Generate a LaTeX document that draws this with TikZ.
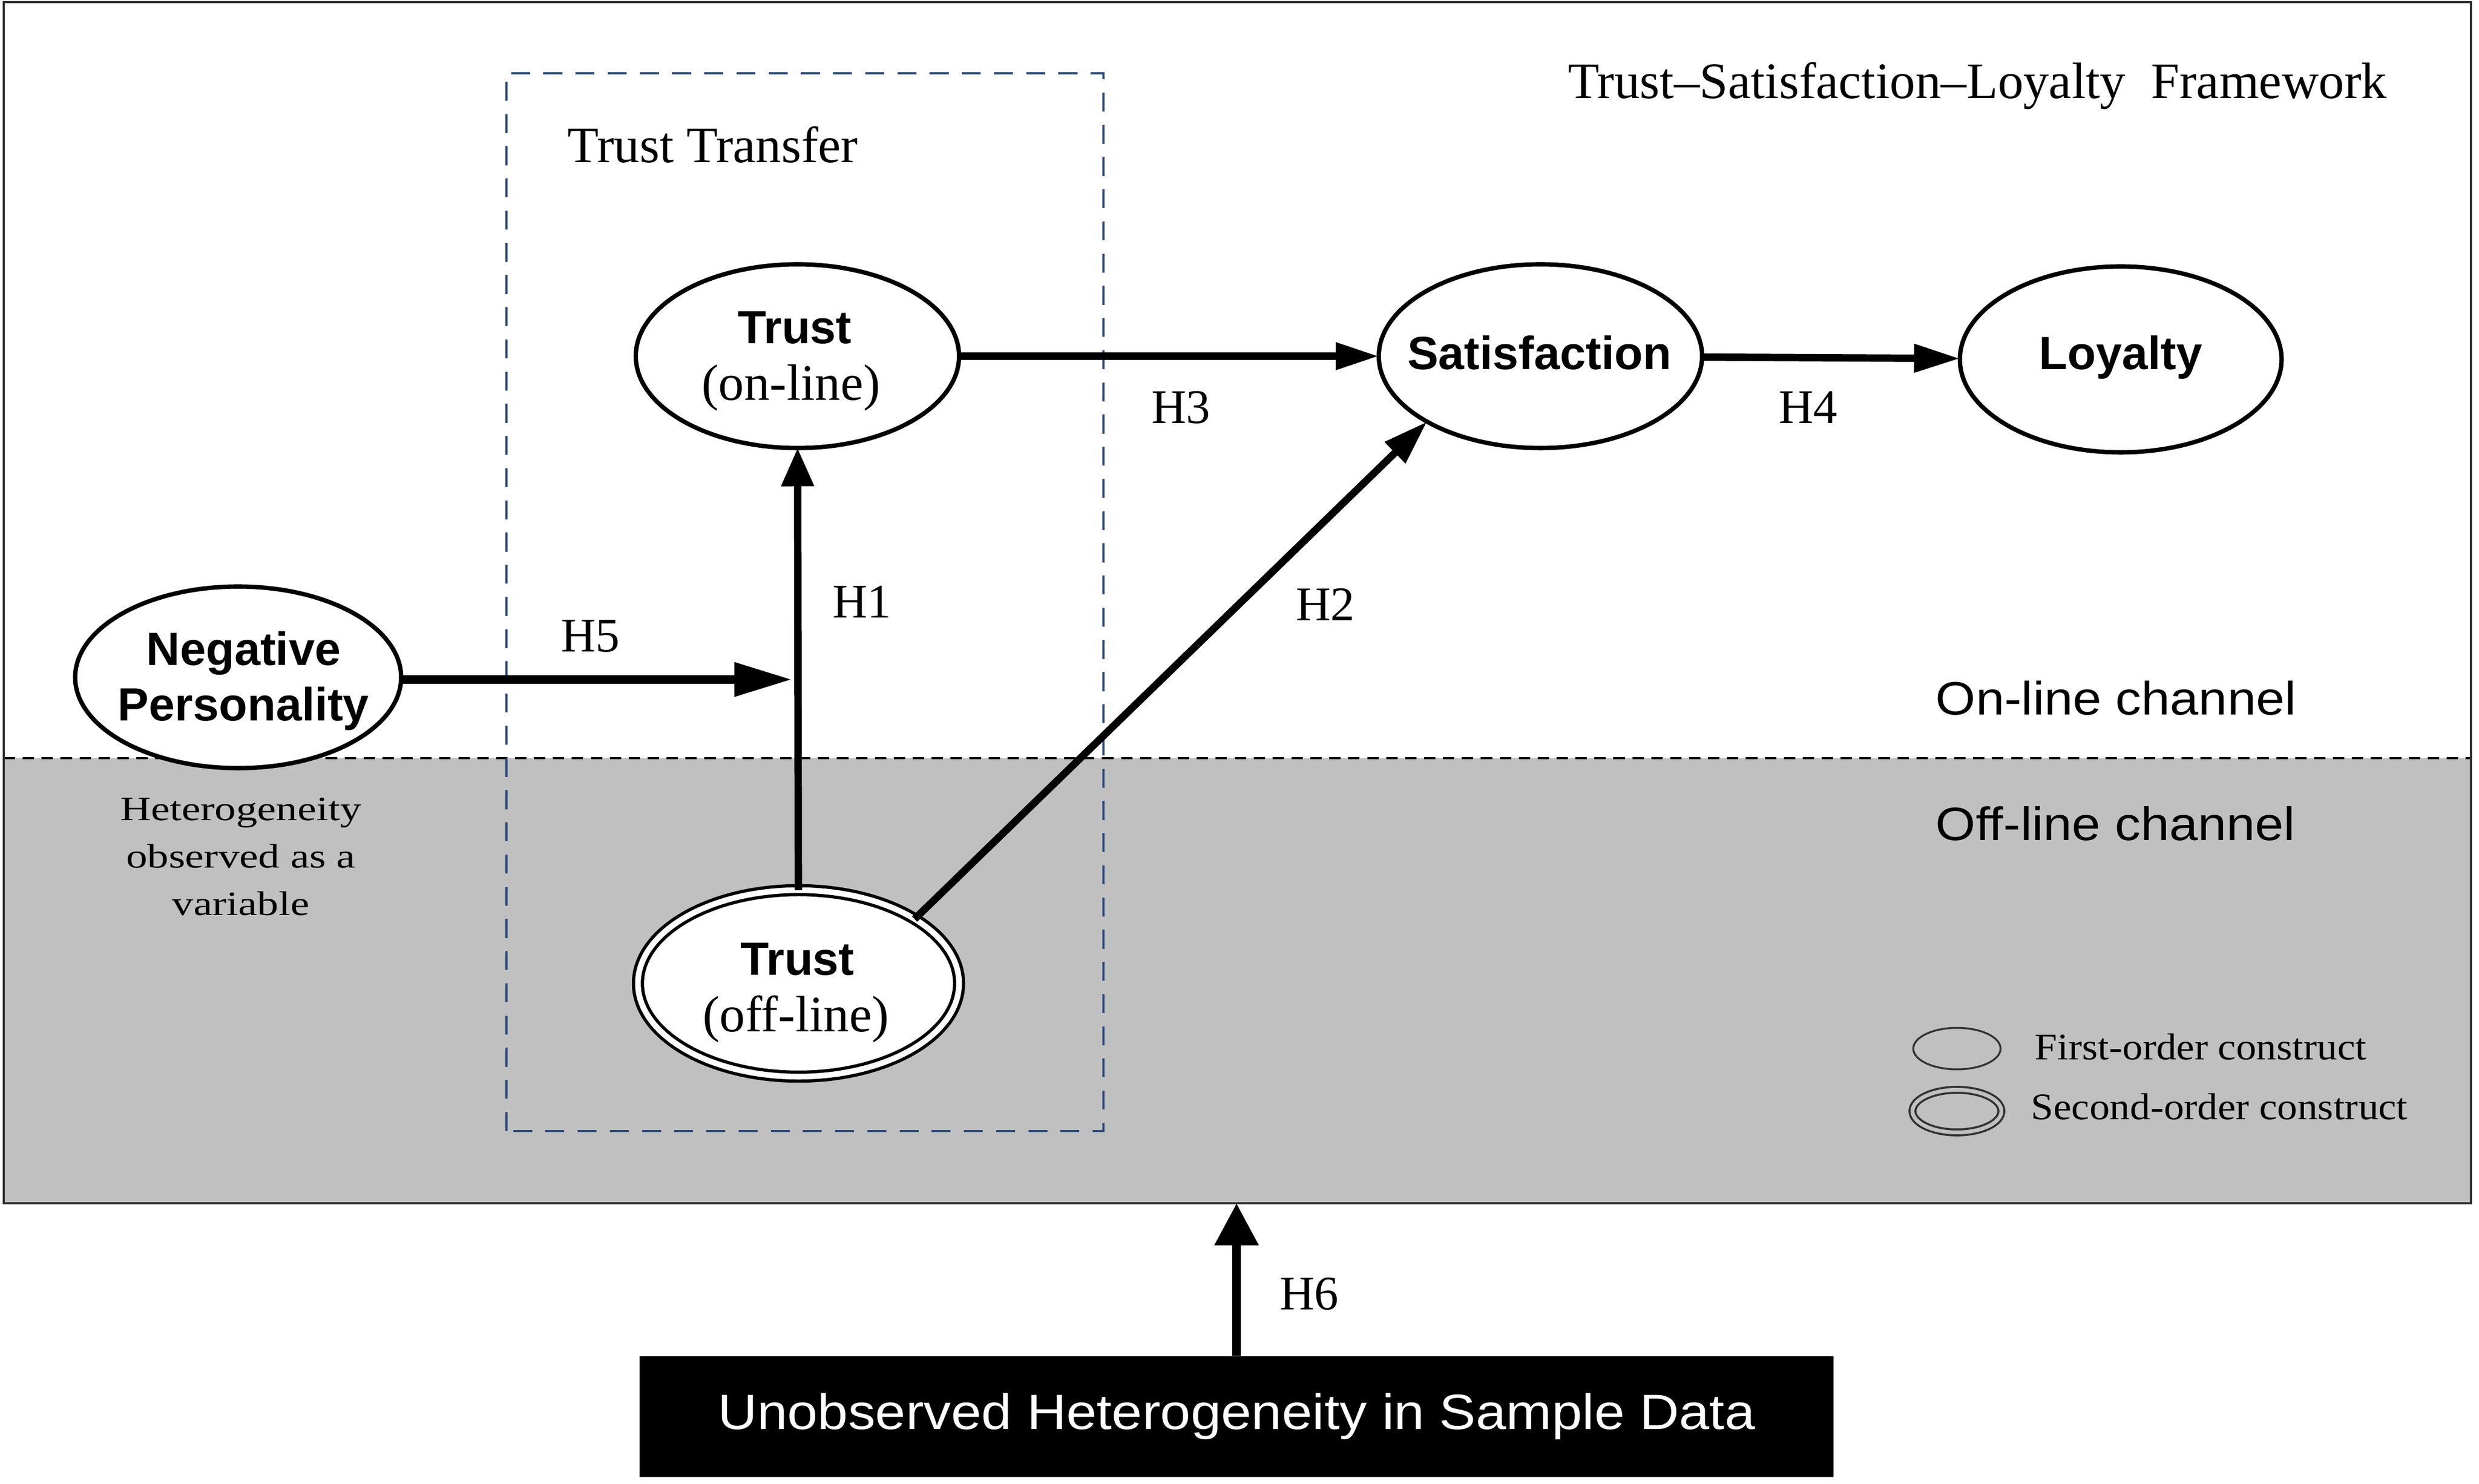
\documentclass[tikz,border=0pt]{standalone}
\usepackage{fontspec}
\setmainfont{Liberation Serif}
\setsansfont{Liberation Sans}
\newfontfamily\serifwide{Liberation Serif}[FakeStretch=1.25]
\newfontfamily\seriflegend{Liberation Serif}[FakeStretch=1.08]
\newfontfamily\sanswide{Liberation Sans}[FakeStretch=1.1]
\usetikzlibrary{shapes.geometric,arrows.meta,calc}
\definecolor{bggray}{RGB}{192,192,192}
\definecolor{navy}{RGB}{40,70,125}
\definecolor{framegray}{RGB}{50,50,50}
\begin{document}
\begin{tikzpicture}[
  construct/.style={draw, line width=2.3pt, ellipse, fill=white, inner sep=0pt, outer sep=0pt, minimum width=6cm, minimum height=3.41cm},
  secondorder/.style={draw, line width=1.7pt, double=white, double distance=3pt, ellipse, fill=white, inner sep=0pt, outer sep=0pt},
  arr/.style={line width=3.9pt},
  bsans/.style={font=\sffamily\bfseries\fontsize{24.6}{28}\selectfont, anchor=base, inner sep=0pt},
  serifin/.style={font=\fontsize{27}{30}\selectfont, anchor=base, inner sep=0pt},
  hlab/.style={font=\fontsize{25.5}{29}\selectfont, anchor=base, inner sep=0pt},
  title/.style={font=\fontsize{27}{30}\selectfont, inner sep=0pt},
  channel/.style={font=\sanswide\fontsize{24.7}{28}\selectfont, anchor=base west, inner sep=0pt},
  note/.style={font=\serifwide\fontsize{18}{24}\selectfont, anchor=base, inner sep=0pt},
  legtext/.style={font=\seriflegend\fontsize{19.8}{23}\selectfont, anchor=base west, inner sep=0pt},
  sepline/.style={line width=0.9pt, dash pattern=on 6pt off 4pt},
  transfer/.style={draw=navy, line width=1.3pt, dash pattern=on 10pt off 7pt},
  frameline/.style={draw=framegray, line width=0.9pt}
]
\useasboundingbox (0,0) rectangle (46.01,27.53);
% background regions
\fill[bggray] (0.07,5.20) rectangle (45.86,13.46);
\draw[sepline] (0.07,13.46) -- (45.86,13.46);
\draw[frameline] (0.07,5.20) rectangle (45.86,27.49);
\draw[transfer] (9.40,6.54) rectangle (20.48,26.17);

% constructs
\node[construct, minimum width=6.05cm, minimum height=3.37cm] (neg) at (4.42,14.96) {};
\node[construct] (ton) at (14.80,20.92) {};
\node[secondorder, minimum width=5.96cm, minimum height=3.46cm] (toff) at (14.82,9.28) {};
\node[construct] (sat) at (28.59,20.92) {};
\node[construct, minimum width=5.97cm, minimum height=3.45cm] (loy) at (39.36,20.86) {};

\node[bsans] (negA) at (4.52,15.18) {Negative};
\node[bsans] (negB) at (4.52,14.15) {Personality};
\node[bsans] (tonA) at (14.75,21.15) {Trust};
\node[serifin] (tonB) at (14.68,20.10) {(on-line)};
\node[bsans] (toffA) at (14.80,9.43) {Trust};
\node[serifin] (toffB) at (14.77,8.38) {(off-line)};
\node[bsans] (satA) at (28.57,20.67) {Satisfaction};
\node[bsans] (loyA) at (39.36,20.67) {Loyalty};

% black box
\node[fill=black, text=white, inner sep=0pt, minimum width=22.16cm, minimum height=2.24cm,
      font=\sanswide\fontsize{26.2}{30}\selectfont] (ubox) at (22.95,1.24) {Unobserved Heterogeneity in Sample Data};

% connectors
\coordinate (h5end) at (14.70,14.92);
\coordinate (h6end) at (ubox.north |- 0,5.20);
\draw[arr, line width=4.5pt, -{Triangle[length=1.07cm,width=0.6cm]}] (neg.east |- h5end) -- (h5end);
\draw[arr, -{Triangle[length=0.71cm,width=0.58cm]}] (toff) -- (ton);
\draw[arr, -{Triangle[length=0.83cm,width=0.52cm]}] (toff.29) -- (sat.210);
\draw[arr, -{Triangle[length=0.8cm,width=0.48cm]}] (ton) -- (sat);
\draw[arr, -{Triangle[length=0.85cm,width=0.5cm]}] (sat) -- (loy);
\draw[arr, line width=4.6pt, -{Triangle[length=0.78cm,width=0.78cm]}] (ubox) -- (h6end);

% hypothesis labels
\node[hlab] (H1) at (16.00,16.06) {H1};
\node[hlab] (H2) at (24.60,16.01) {H2};
\node[hlab] (H3) at (21.92,19.67) {H3};
\node[hlab] (H4) at (33.56,19.67) {H4};
\node[hlab] (H5) at (10.96,15.43) {H5};
\node[hlab] (H6) at (24.30,3.23) {H6};

% titles
\node[title, anchor=base west] (tt) at (10.53,24.51) {Trust Transfer};
\node[title, anchor=base] (tsl) at (36.70,25.70) {Trust–Satisfaction–Loyalty \ Framework};
\node[channel] (onl) at (35.92,14.26) {On-line channel};
\node[channel] (offl) at (35.92,11.93) {Off-line channel};

% note
\node[note] (n1) at (4.47,12.30) {Heterogeneity};
\node[note] (n2) at (4.47,11.42) {observed as a};
\node[note] (n3) at (4.47,10.54) {variable};

% legend
\node[draw=framegray, line width=1pt, ellipse, inner sep=0pt, minimum width=1.62cm, minimum height=0.77cm] (leg1) at (36.32,8.07) {};
\node[draw=framegray, line width=1.1pt, double=bggray, double distance=2pt, ellipse, inner sep=0pt, minimum width=1.65cm, minimum height=0.79cm] (leg2) at (36.32,6.91) {};
\node[legtext] (leg1t) at (37.76,7.86) {First-order construct};
\node[legtext] (leg2t) at (37.69,6.76) {Second-order construct};
\end{tikzpicture}
\end{document}
